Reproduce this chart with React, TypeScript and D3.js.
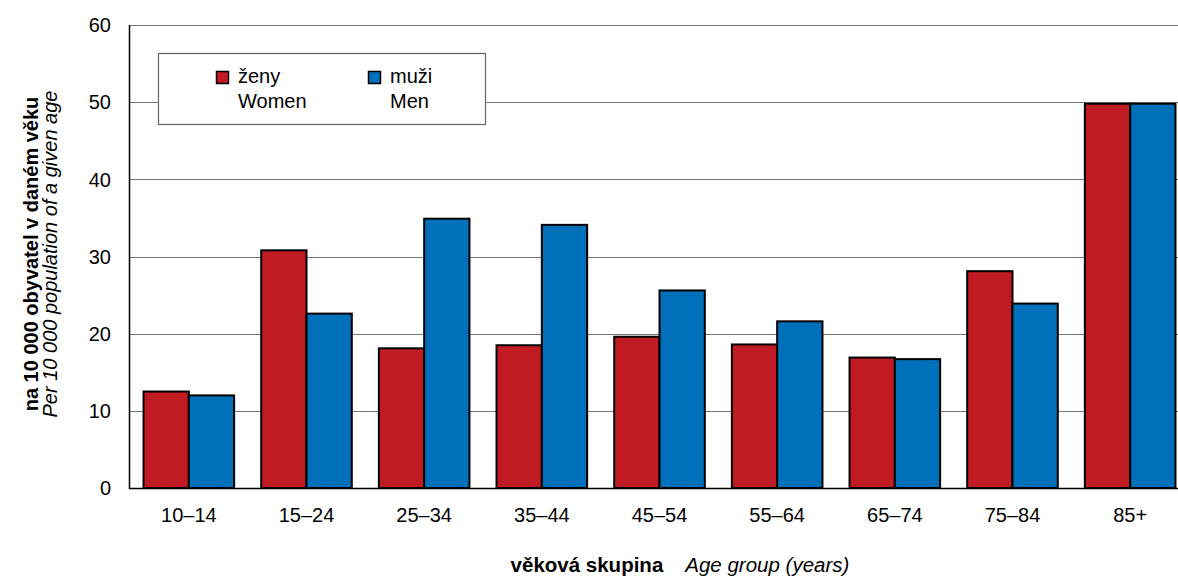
import React from "react";
import * as d3 from "d3";

const categories = ["10–14", "15–24", "25–34", "35–44", "45–54", "55–64", "65–74", "75–84", "85+"];
const women = [12.5, 30.8, 18.1, 18.5, 19.6, 18.6, 16.9, 28.1, 49.8];
const men = [12.0, 22.6, 34.9, 34.1, 25.6, 21.6, 16.7, 23.9, 49.8];
const yTicks = [0, 10, 20, 30, 40, 50, 60];
const seriesNames = [
  { cz: "ženy", en: "Women", color: "#C01B23" },
  { cz: "muži", en: "Men", color: "#0070BA" },
];

const W = 1178;
const H = 583;
const FONT = "'Liberation Sans', Arial, sans-serif";

export default function App() {
  const x = d3.scaleBand<string>().domain(categories).range([130, 1189]).paddingInner(0.23).paddingOuter(0.115);
  const y = d3.scaleLinear().domain([0, 60]).range([488, 25]);
  const bw = x.bandwidth() / 2;
  const series = [women, men];

  return (
    <svg width={W} height={H} style={{ position: "absolute", left: 0, top: 0, background: "#fff" }} fontFamily={FONT}>
      <rect x={0} y={0} width={W} height={H} fill="#fff" />
      {/* gridlines */}
      {yTicks.filter((t) => t > 0).map((t) => (
        <line key={t} x1={130} x2={W} y1={Math.round(y(t)) + 0.5} y2={Math.round(y(t)) + 0.5} stroke="#777" strokeWidth={1.2} />
      ))}
      {/* legend */}
      <rect x={158.5} y={53.5} width={327} height={71} fill="#fff" stroke="#666" strokeWidth={1.2} />
      {seriesNames.map((s, i) => {
        const lx = i === 0 ? 216 : 368;
        return (
          <g key={s.en}>
            <rect x={lx + 0.5} y={71.5} width={12} height={12} fill={s.color} stroke="#000" strokeWidth={1.5} />
            <text x={lx + 22} y={83} fontSize={20} fill="#000">{s.cz}</text>
            <text x={lx + 22} y={107.5} fontSize={20} fill="#000">{s.en}</text>
          </g>
        );
      })}
      {/* bars */}
      {categories.map((c, ci) =>
        series.map((vals, si) => (
          <rect
            key={c + si}
            x={(x(c) as number) + si * bw}
            y={y(vals[ci])}
            width={bw}
            height={y(0) - y(vals[ci])}
            fill={seriesNames[si].color}
            stroke="#000"
            strokeWidth={2}
          />
        ))
      )}
      {/* axes */}
      <line x1={129.5} x2={129.5} y1={25} y2={489} stroke="#000" strokeWidth={1.5} />
      <line x1={129} x2={W} y1={488.5} y2={488.5} stroke="#000" strokeWidth={1.5} />
      {yTicks.map((t) => (
        <text key={t} x={111} y={y(t)} dy="0.36em" textAnchor="end" fontSize={20} fill="#000">{t}</text>
      ))}
      {categories.map((c) => (
        <text key={c} x={(x(c) as number) + x.bandwidth() / 2} y={522} textAnchor="middle" fontSize={20} fill="#000">{c}</text>
      ))}
      {/* axis titles */}
      <text x={680} y={572} textAnchor="middle" fontSize={20.5} fill="#000">
        <tspan fontWeight="bold">věková skupina</tspan>
        <tspan dx={22} fontStyle="italic">Age group (years)</tspan>
      </text>
      <g transform="translate(38,254) rotate(-90)">
        <text x={0} y={0} textAnchor="middle" fontSize={20} fontWeight="bold" fill="#000">na 10 000 obyvatel v daném věku</text>
        <text x={0} y={19} textAnchor="middle" fontSize={20} fontStyle="italic" fill="#000">Per 10 000 population of a given age</text>
      </g>
    </svg>
  );
}
